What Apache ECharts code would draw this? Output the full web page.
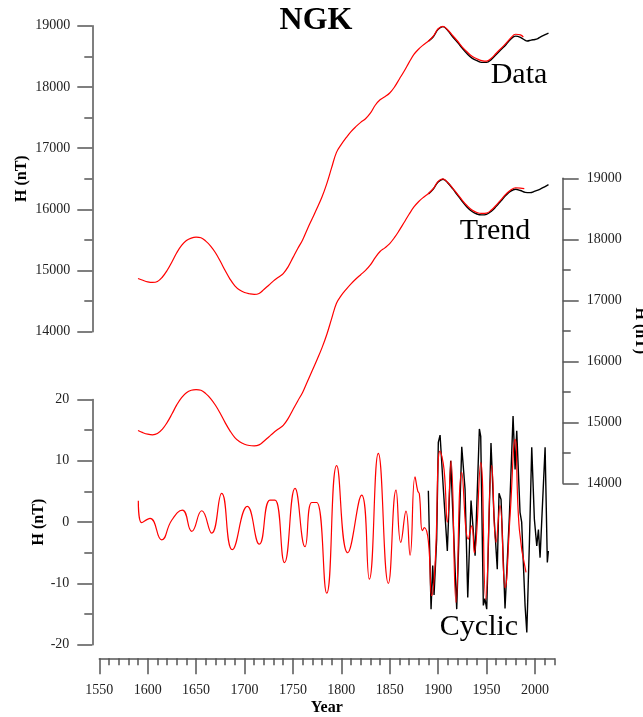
<!DOCTYPE html>
<html>
<head>
<meta charset="utf-8">
<script src="https://cdn.jsdelivr.net/npm/echarts@6/dist/echarts.min.js"></script>
<style>
html, body { margin: 0; padding: 0; background: #fff; }
#main { width: 643px; height: 717px; }
</style>
</head>
<body>
<div id="main"></div>
<script>
// ---- data ----
// upper panel (left axis): Data
const dataRedYears = [1590,1595,1600,1605,1610,1615,1620,1625,1630,1635,1640,1645,1650,1655,1660,1665,1670,1675,1680,1685,1690,1695,1700,1705,1710,1715,1720,1725,1730,1735,1740,1745,1750,1755,1760,1765,1770,1775,1780,1785,1790,1795,1800,1805,1810,1815,1820,1825,1830,1835,1840,1845,1850,1855,1860,1865,1870,1875,1880,1885,1890,1895,1900,1905,1910,1915,1920,1925,1930,1935,1940,1945,1950,1955,1960,1965,1970,1975,1980,1985,1988];
const dataRedH = [14870,14840,14815,14805,14820,14890,15000,15140,15290,15410,15490,15530,15545,15535,15480,15400,15290,15150,15000,14860,14750,14680,14640,14620,14610,14625,14690,14760,14830,14890,14950,15060,15210,15360,15500,15680,15850,16020,16200,16420,16680,16930,17060,17170,17270,17350,17420,17480,17570,17700,17790,17840,17900,18000,18130,18260,18400,18530,18620,18690,18750,18830,18950,18990,18930,18840,18750,18650,18570,18500,18460,18430,18420,18470,18550,18630,18710,18800,18860,18850,18815];
const dataBlackYears = [1890,1895,1900,1905,1910,1915,1920,1925,1930,1935,1940,1945,1950,1955,1960,1965,1970,1975,1980,1985,1990,1992,1996,2000,2003,2005,2010,2014];
const dataBlackH = [18745,18820,18940,18985,18920,18820,18730,18630,18540,18470,18430,18400,18400,18450,18530,18610,18690,18780,18830,18810,18760,18750,18765,18775,18790,18810,18850,18880];

// middle panel (right axis): Trend
const trendRedYears = [1590,1595,1600,1605,1610,1615,1620,1625,1630,1635,1640,1645,1650,1655,1660,1665,1670,1675,1680,1685,1690,1695,1700,1705,1710,1715,1720,1725,1730,1735,1740,1745,1750,1755,1760,1765,1770,1775,1780,1785,1790,1795,1800,1805,1810,1815,1820,1825,1830,1835,1840,1845,1850,1855,1860,1865,1870,1875,1880,1885,1890,1895,1900,1905,1910,1915,1920,1925,1930,1935,1940,1945,1950,1955,1960,1965,1970,1975,1980,1985,1989];
const trendRedH = [14865,14830,14805,14795,14815,14885,14995,15135,15285,15405,15485,15525,15535,15525,15470,15390,15280,15145,14995,14860,14750,14680,14640,14620,14615,14630,14690,14760,14830,14890,14950,15060,15205,15350,15490,15670,15850,16030,16220,16440,16700,16950,17080,17180,17270,17350,17420,17490,17580,17700,17800,17860,17930,18030,18150,18280,18410,18530,18620,18690,18750,18830,18950,18990,18930,18840,18740,18640,18550,18480,18440,18425,18430,18480,18560,18650,18740,18810,18845,18840,18830];
const trendBlackYears = [1890,1895,1900,1905,1910,1915,1920,1925,1930,1935,1940,1945,1950,1955,1960,1965,1970,1975,1980,1985,1990,1995,2000,2005,2010,2014];
const trendBlackH = [18745,18825,18940,18985,18925,18830,18725,18620,18525,18455,18415,18400,18410,18460,18540,18630,18720,18790,18820,18800,18770,18765,18790,18820,18860,18895];

// lower panel: Cyclic
const cycRedYears = [1590.3,1593.8,1602.4,1614.5,1624.8,1635.8,1645.5,1655.8,1666.1,1676.4,1687.4,1702.9,1715.3,1726.3,1731.5,1741.3,1752.2,1762.5,1769.4,1774.6,1784.9,1795.2,1806.6,1821,1828.9,1838.2,1848.6,1856.5,1861.4,1866.8,1871,1876.1,1878.9,1880.6,1883.7,1885.8,1889.9,1893.4,1896.8,1902,1906.1,1909.5,1913.3,1918.5,1924.4,1931.2,1934.7,1937.4,1944,1949.2,1955.4,1959.8,1963.9,1969.1,1974.3,1979.5,1983.9,1990.8];
const cycRedH = [3.5,-0.1,0.6,-2.9,0.3,1.95,-1.5,1.85,-1.8,4.7,-4.5,2.55,-3.6,3.6,3.6,-6.6,5.5,-4.0,3.2,3.2,-11.6,9.2,-5.0,4.4,-9.3,11.2,-10.0,5.2,-3.3,1.8,-5.4,7.4,5.1,4.6,-1.4,-0.9,-3.1,-12.0,-7.1,11.6,8.6,0.0,10.0,-13.1,8.1,-2.8,-0.6,-5.0,9.7,-12.6,9.2,-3.3,2.7,-10.7,1.0,13.5,-1.2,-8.2];
const cycBlackYears = [1889.9,1892.7,1894.4,1895.8,1898.5,1900.2,1902,1905.4,1909.5,1913,1919.2,1924.4,1927.8,1930.6,1934,1938.2,1942.6,1944,1946.7,1948.3,1950.2,1954.6,1957.7,1961.1,1962.9,1965,1969.1,1973.6,1977.4,1979.5,1981.2,1984.6,1986.3,1989.8,1991.6,1994.3,1996.7,1999.4,2001.9,2003.6,2005.3,2010.5,2012.8,2013.9];
const cycBlackH = [5.1,-14.2,-7.1,-11.9,-2.8,13.0,14.2,5.4,-4.7,10.0,-14.2,12.3,5.4,-12.3,3.5,-5.5,15.2,14.0,-13.6,-12.5,-14.2,12.9,1.0,-7.7,4.7,3.7,-14.1,1.0,17.3,8.6,14.9,1.6,0.0,-13.6,-18.0,-3.3,12.2,0.5,-3.9,-1.2,-5.8,12.2,-6.6,-4.7];

const xTickLabels = [1550,1600,1650,1700,1750,1800,1850,1900,1950,2000];
const panelLabels = ['Data', 'Trend', 'Cyclic'];

function pairs(xs, ys) { return xs.map((x, i) => [x, ys[i]]); }
function plain(v) { return String(v); }

const SERIF = 'Liberation Serif';
const AXIS_COLOR = '#555';
const X_MIN = 1550, X_MAX = 2020;

function hiddenX(gridIndex) {
    return { type: 'value', gridIndex: gridIndex, min: X_MIN, max: X_MAX, show: false };
}

function yAxisLeft(gridIndex, min, max, interval, gap, labelMargin) {
    return {
        type: 'value', gridIndex: gridIndex, position: 'left', offset: 7,
        min: min, max: max, interval: interval,
        name: 'H (nT)', nameLocation: 'middle', nameGap: gap, nameMoveOverlap: false,
        nameTextStyle: { fontFamily: SERIF, fontWeight: 'bold', fontSize: 16, color: '#000' },
        axisLine: { show: true, onZero: false, lineStyle: { color: AXIS_COLOR, width: 1.5 } },
        axisTick: { show: true, length: 15, lineStyle: { color: AXIS_COLOR, width: 1.5 } },
        minorTick: { show: true, splitNumber: 2, length: 8, lineStyle: { color: AXIS_COLOR, width: 1.5 } },
        axisLabel: { margin: labelMargin, fontFamily: SERIF, fontSize: 14, color: '#222', formatter: plain },
        splitLine: { show: false }
    };
}

let myChart = echarts.init(document.getElementById('main'));

let option = {
    animation: false,
    backgroundColor: '#fff',
    grid: [
        { left: 99.3, top: 25.7, width: 455, height: 306, outerBoundsMode: 'none' },
        { left: 99.3, top: 178.3, width: 455, height: 305, outerBoundsMode: 'none' },
        { left: 99.3, top: 399.5, width: 455, height: 245.2, outerBoundsMode: 'none' }
    ],
    xAxis: [
        hiddenX(0),
        hiddenX(1),
        {
            // every 10 years, short ticks
            type: 'value', gridIndex: 2, position: 'bottom', offset: 13.6,
            min: X_MIN, max: X_MAX, interval: 10,
            axisLine: { show: true, onZero: false, lineStyle: { color: AXIS_COLOR, width: 1.5 } },
            axisTick: { show: true, length: 7, lineStyle: { color: AXIS_COLOR, width: 1.5 } },
            axisLabel: { show: false },
            splitLine: { show: false }
        },
        {
            // every 50 years, long ticks + labels
            type: 'value', gridIndex: 2, position: 'bottom', offset: 13.6,
            min: X_MIN, max: X_MAX,
            name: 'Year', nameLocation: 'middle', nameGap: 42,
            nameTextStyle: { fontFamily: SERIF, fontWeight: 'bold', fontSize: 16, color: '#000' },
            axisLine: { show: false, onZero: false },
            axisTick: { show: true, length: 16, customValues: xTickLabels, lineStyle: { color: AXIS_COLOR, width: 1.5 } },
            axisLabel: { customValues: xTickLabels, margin: 25, fontFamily: SERIF, fontSize: 14, color: '#222', formatter: plain },
            splitLine: { show: false }
        }
    ],
    yAxis: [
        yAxisLeft(0, 14000, 19000, 1000, 62, 22),
        {
            type: 'value', gridIndex: 1, position: 'right', offset: 8.4,
            min: 14000, max: 19000, interval: 1000,
            name: 'H (nT)', nameLocation: 'middle', nameGap: 69, nameRotate: -90,
            nameTextStyle: { fontFamily: SERIF, fontWeight: 'bold', fontSize: 16, color: '#000' },
            axisLine: { show: true, onZero: false, lineStyle: { color: AXIS_COLOR, width: 1.5 } },
            axisTick: { show: true, length: 16, lineStyle: { color: AXIS_COLOR, width: 1.5 } },
            minorTick: { show: true, splitNumber: 2, length: 8, lineStyle: { color: AXIS_COLOR, width: 1.5 } },
            axisLabel: { margin: 24, fontFamily: SERIF, fontSize: 14, color: '#222', formatter: plain },
            splitLine: { show: false }
        },
        yAxisLeft(2, -20, 20, 10, 45, 23)
    ],
    graphic: [
        { type: 'text', x: 316, y: 21, style: { text: 'NGK', font: 'bold 32px "Liberation Serif"', fill: '#000', align: 'center', verticalAlign: 'middle' } },
        { type: 'text', x: 519, y: 75, style: { text: panelLabels[0], font: '30px "Liberation Serif"', fill: '#000', align: 'center', verticalAlign: 'middle' } },
        { type: 'text', x: 495, y: 231, style: { text: panelLabels[1], font: '30px "Liberation Serif"', fill: '#000', align: 'center', verticalAlign: 'middle' } },
        { type: 'text', x: 479, y: 627, style: { text: panelLabels[2], font: '30px "Liberation Serif"', fill: '#000', align: 'center', verticalAlign: 'middle' } }
    ],
    series: [
        {
            type: 'line', xAxisIndex: 0, yAxisIndex: 0, data: pairs(dataBlackYears, dataBlackH),
            smooth: 0.4, showSymbol: false, lineStyle: { color: '#000', width: 1.4 }, z: 2
        },
        {
            type: 'line', xAxisIndex: 0, yAxisIndex: 0, data: pairs(dataRedYears, dataRedH),
            smooth: 0.4, showSymbol: false, lineStyle: { color: '#ff0000', width: 1.2 }, z: 3
        },
        {
            type: 'line', xAxisIndex: 1, yAxisIndex: 1, data: pairs(trendBlackYears, trendBlackH),
            smooth: 0.4, showSymbol: false, lineStyle: { color: '#000', width: 1.4 }, z: 2
        },
        {
            type: 'line', xAxisIndex: 1, yAxisIndex: 1, data: pairs(trendRedYears, trendRedH),
            smooth: 0.4, showSymbol: false, lineStyle: { color: '#ff0000', width: 1.2 }, z: 3
        },
        {
            type: 'line', xAxisIndex: 2, yAxisIndex: 2, data: pairs(cycBlackYears, cycBlackH),
            showSymbol: false, lineStyle: { color: '#000', width: 1.4 }, z: 2
        },
        {
            type: 'line', xAxisIndex: 2, yAxisIndex: 2, data: pairs(cycRedYears, cycRedH),
            smooth: 0.5, showSymbol: false, lineStyle: { color: '#ff0000', width: 1.2 }, z: 3
        }
    ]
};
myChart.setOption(option);
</script>
</body>
</html>
